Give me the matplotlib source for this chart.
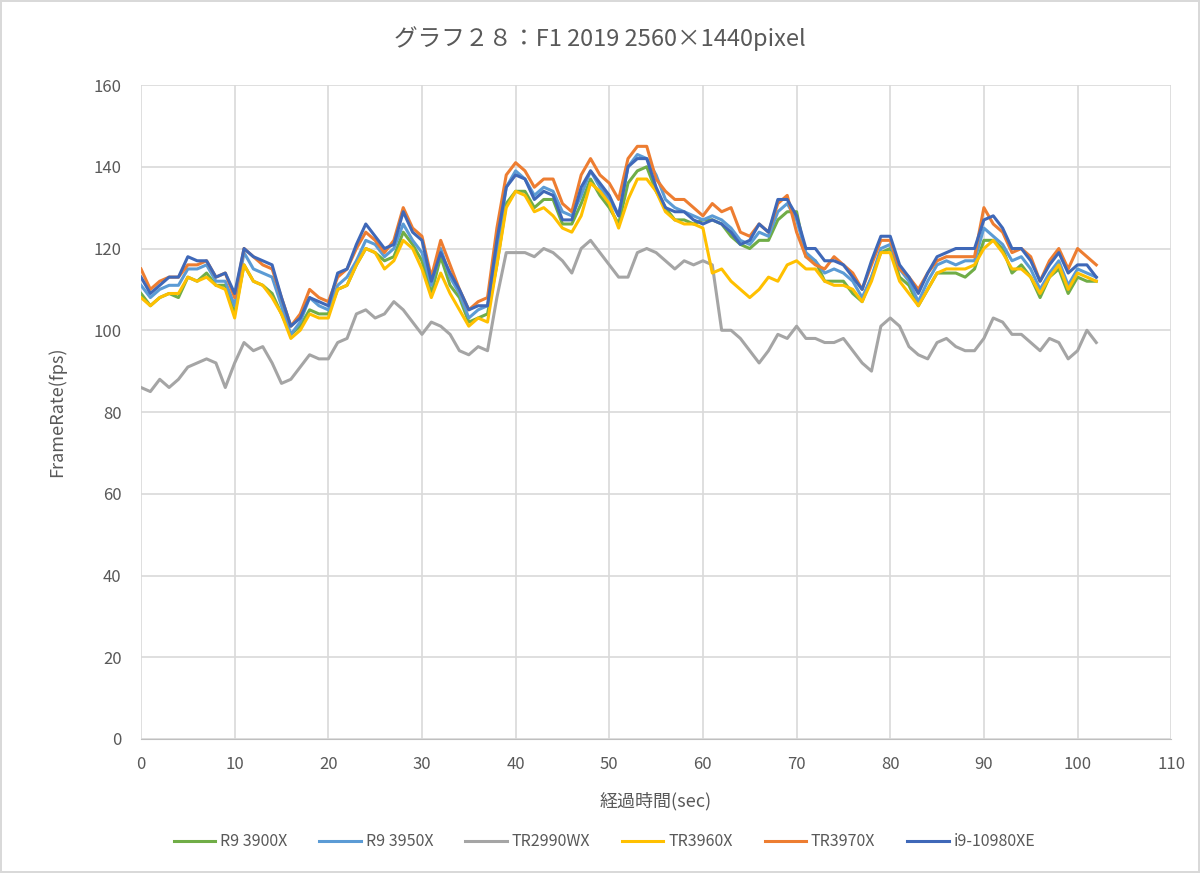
import matplotlib
matplotlib.use("Agg")
import matplotlib.pyplot as plt

plt.rcParams['font.family'] = ['Noto Sans CJK JP', 'DejaVu Sans']

# elapsed time (sec)
seconds = list(range(0, 103))

r9_3900x = [109, 106, 108, 109, 108, 113, 112, 114, 111, 111, 104, 116, 112, 111, 109, 104, 99, 101, 105, 104,
            104, 110, 111, 116, 120, 119, 117, 118, 124, 121, 117, 109, 118, 111, 108, 102, 103, 104, 116, 131,
            134, 134, 130, 132, 132, 126, 126, 131, 137, 133, 130, 126, 136, 139, 140, 134, 130, 127, 127, 126,
            127, 127, 126, 123, 121, 120, 122, 122, 127, 129, 129, 118, 117, 112, 112, 112, 109, 107, 113, 119,
            120, 113, 111, 106, 110, 114, 114, 114, 113, 115, 122, 122, 120, 114, 116, 113, 108, 113, 115, 109,
            113, 112, 112]
r9_3950x = [111, 108, 110, 111, 111, 115, 115, 116, 112, 112, 106, 119, 115, 114, 113, 106, 99, 102, 108, 106,
            105, 111, 113, 117, 122, 121, 118, 120, 126, 122, 119, 111, 120, 113, 109, 103, 105, 106, 120, 135,
            139, 137, 133, 135, 134, 129, 128, 133, 139, 135, 132, 128, 140, 143, 142, 138, 132, 130, 129, 128,
            127, 128, 127, 125, 122, 121, 124, 123, 129, 131, 127, 119, 117, 114, 115, 114, 112, 108, 113, 120,
            121, 115, 112, 107, 112, 116, 117, 116, 117, 117, 125, 123, 121, 117, 118, 115, 110, 114, 117, 111,
            115, 114, 113]
tr2990wx = [86, 85, 88, 86, 88, 91, 92, 93, 92, 86, 92, 97, 95, 96, 92, 87, 88, 91, 94, 93,
            93, 97, 98, 104, 105, 103, 104, 107, 105, 102, 99, 102, 101, 99, 95, 94, 96, 95, 108, 119,
            119, 119, 118, 120, 119, 117, 114, 120, 122, 119, 116, 113, 113, 119, 120, 119, 117, 115, 117, 116,
            117, 116, 100, 100, 98, 95, 92, 95, 99, 98, 101, 98, 98, 97, 97, 98, 95, 92, 90, 101,
            103, 101, 96, 94, 93, 97, 98, 96, 95, 95, 98, 103, 102, 99, 99, 97, 95, 98, 97, 93,
            95, 100, 97]
tr3960x = [108, 106, 108, 109, 109, 113, 112, 113, 111, 110, 103, 116, 112, 111, 108, 104, 98, 100, 104, 103,
           103, 110, 111, 116, 120, 119, 115, 117, 122, 120, 115, 108, 114, 109, 105, 101, 103, 102, 116, 130,
           134, 133, 129, 130, 128, 125, 124, 128, 136, 134, 131, 125, 132, 137, 137, 134, 129, 127, 126, 126,
           125, 114, 115, 112, 110, 108, 110, 113, 112, 116, 117, 115, 115, 112, 111, 111, 110, 107, 112, 119,
           119, 112, 109, 106, 110, 114, 115, 115, 115, 116, 120, 122, 119, 115, 115, 113, 109, 113, 116, 110,
           114, 113, 112]
tr3970x = [115, 110, 112, 113, 113, 116, 116, 117, 113, 114, 108, 120, 118, 116, 115, 108, 101, 104, 110, 108,
           107, 113, 115, 120, 124, 122, 119, 122, 130, 125, 123, 113, 122, 116, 110, 105, 107, 108, 125, 138,
           141, 139, 135, 137, 137, 131, 129, 138, 142, 138, 136, 132, 142, 145, 145, 137, 134, 132, 132, 130,
           128, 131, 129, 130, 124, 123, 126, 124, 131, 133, 124, 118, 116, 115, 118, 116, 114, 110, 116, 122,
           122, 115, 113, 110, 114, 117, 118, 118, 118, 118, 130, 126, 124, 119, 120, 118, 112, 117, 120, 115,
           120, 118, 116]
i9_10980xe = [113, 109, 111, 113, 113, 118, 117, 117, 113, 114, 109, 120, 118, 117, 116, 108, 101, 103, 108, 107,
              106, 114, 115, 121, 126, 123, 120, 121, 129, 124, 122, 112, 119, 114, 110, 105, 106, 106, 122, 135,
              138, 137, 132, 134, 133, 127, 127, 135, 139, 136, 133, 128, 140, 142, 142, 135, 130, 129, 129, 127,
              126, 127, 126, 124, 121, 122, 126, 124, 132, 132, 128, 120, 120, 117, 117, 116, 113, 110, 117, 123,
              123, 116, 113, 109, 114, 118, 119, 120, 120, 120, 127, 128, 125, 120, 120, 117, 112, 116, 119, 114,
              116, 116, 113]

series_names = ["R9 3900X", "R9 3950X", "TR2990WX", "TR3960X", "TR3970X", "i9-10980XE"]
series_values = [r9_3900x, r9_3950x, tr2990wx, tr3960x, tr3970x, i9_10980xe]
colors = ["#70AD47", "#5B9BD5", "#A5A5A5", "#FFC000", "#ED7D31", "#3F68B8"]

fig = plt.figure(figsize=(12, 8.73), dpi=100)
ax = fig.add_axes([0.1175, 0.1535, 0.8585, 0.7491])

for name, vals, c in zip(series_names, series_values, colors):
    ax.plot(seconds, vals, color=c, linewidth=2.2, label=name)

ax.set_xlim(0, 110)
ax.set_ylim(0, 160)
ax.set_xticks(range(0, 111, 10))
ax.set_yticks(range(0, 161, 20))
ax.grid(True, color="#D9D9D9", linewidth=1.2)
ax.set_axisbelow(True)
for s in ["top", "right", "left"]:
    ax.spines[s].set_visible(False)
ax.spines["bottom"].set_color("#BFBFBF")
ax.tick_params(axis="y", length=0, labelsize=12, colors="#595959", pad=14)
ax.tick_params(axis="x", length=0, labelsize=12, colors="#595959", pad=12)

# Labeling the chart
fig.text(0.5, 0.956, "グラフ２８：F1 2019 2560×1440pixel", fontsize=17, color="#595959",
         ha="center", va="center")
ax.set_xlabel("経過時間(sec)", fontsize=13, color="#595959", labelpad=14)
ax.set_ylabel("FrameRate(fps)", fontsize=13, color="#595959", labelpad=20)

ax.legend(loc="upper center", bbox_to_anchor=(0.45, -0.122), ncol=6, frameon=False,
          fontsize=11.5, labelcolor="#595959", handlelength=2.6, columnspacing=2.0, handletextpad=0.3)

fig.patch.set_edgecolor("#D9D9D9")
fig.patch.set_linewidth(1.5)

fig.savefig("out.png", dpi=100, edgecolor=fig.get_edgecolor())
